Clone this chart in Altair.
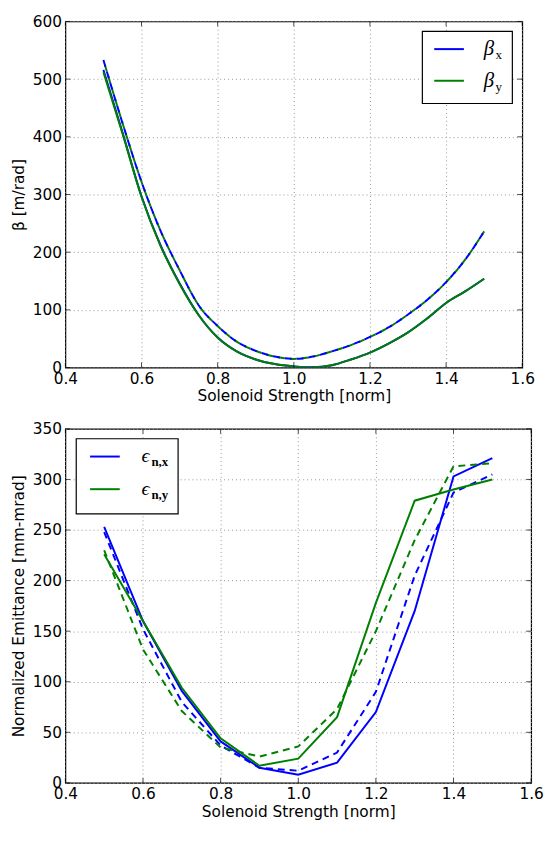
import altair as alt
import pandas as pd

# ---------------- data ----------------
s_beta = [0.50, 0.55, 0.60, 0.65, 0.70, 0.75, 0.80, 0.85, 0.90, 0.95, 1.00,
          1.05, 1.10, 1.15, 1.20, 1.25, 1.30, 1.35, 1.40, 1.45, 1.50]
beta_x_solid = [516, 408, 297, 212, 146, 91, 52, 28, 14, 6, 2,
                0.5, 4, 14, 26, 42, 61, 85, 112, 132, 154]
beta_y_solid = [512, 406, 296, 211, 145, 91, 52, 28, 14, 6, 2,
                0.5, 4, 14, 26, 42, 61, 85, 112, 132, 154]
beta_x_dashed = [533, 424, 322, 237, 169, 108, 72, 45, 29, 19, 15,
                 19, 28, 39, 53, 70, 92, 117, 148, 187, 236]
beta_y_dashed = [533, 424, 322, 237, 169, 108, 72, 45, 29, 19, 15,
                 19, 28, 39, 53, 70, 92, 117, 148, 187, 236]

s_emit = [0.5, 0.6, 0.7, 0.8, 0.9, 1.0, 1.1, 1.2, 1.3, 1.4, 1.5]
emit_x_solid = [253, 160, 91, 41, 15, 8, 20, 70, 170, 303, 321]
emit_x_dashed = [248, 152, 80, 37, 15, 12, 30, 90, 205, 287, 305]
emit_y_solid = [226, 160, 94, 44, 17, 24, 65, 178, 279, 290, 300]
emit_y_dashed = [230, 132, 71, 35, 26, 36, 73, 150, 240, 313, 316]

x_ticks = [0.4, 0.6, 0.8, 1.0, 1.2, 1.4, 1.6]
beta_ticks = [0, 100, 200, 300, 400, 500, 600]
emit_ticks = [0, 50, 100, 150, 200, 250, 300, 350]

x_title = "Solenoid Strength [norm]"
beta_title = "β [m/rad]"
emit_title = "Normalized Emittance [mm-mrad]"

BLUE = "#0000ff"
GREEN = "#008000"
FONT = "DejaVu Sans"
SERIF = "Liberation Serif"

one = pd.DataFrame({"k": [0]})


def panel(w, h, ydom, yticks, ytitle, series, legend):
    xs = alt.Scale(domain=[0.4, 1.6], nice=False, zero=False, padding=0)
    ys = alt.Scale(domain=ydom, nice=False, zero=False, padding=0)
    xenc = alt.X("s:Q", scale=xs, title=x_title,
                 axis=alt.Axis(values=x_ticks, format=".1f", labelFlush=False,
                               labelOverlap=False, ticks=False, domain=False,
                               labelPadding=4, titlePadding=2))
    yenc = alt.Y("v:Q", scale=ys, title=ytitle,
                 axis=alt.Axis(values=yticks, format="d", labelFlush=False,
                               labelOverlap=False, ticks=False, domain=False,
                               labelPadding=4, titlePadding=6))
    layers = []
    for xv, yv, color, dash, off, interp in series:
        df = pd.DataFrame({"s": xv, "v": yv})
        mk = dict(color=color, strokeWidth=2, interpolate=interp, clip=True)
        if dash:
            mk["strokeDash"] = dash
            mk["strokeDashOffset"] = off
        layers.append(alt.Chart(df).mark_line(**mk).encode(x=xenc, y=yenc))

    # inward ticks on all four sides
    dx = pd.DataFrame({"s": x_ticks})
    dy = pd.DataFrame({"v": yticks})
    tk = dict(color="black", size=5, thickness=1)
    layers.append(alt.Chart(dx).mark_tick(**tk).encode(x=xenc, y=alt.value(h - 2.5)))
    layers.append(alt.Chart(dx).mark_tick(**tk).encode(x=xenc, y=alt.value(2.5)))
    layers.append(alt.Chart(dy).mark_tick(**tk).encode(y=yenc, x=alt.value(2.5)))
    layers.append(alt.Chart(dy).mark_tick(**tk).encode(y=yenc, x=alt.value(w - 2.5)))

    # legend
    bx0, bx1, by0, by1, lx0, lx1, ly, tx, main, sub, msize, ssize, sdx, sweight = legend
    layers.append(alt.Chart(one).mark_rect(fill="white", stroke="black", strokeWidth=1.2).encode(
        x=alt.value(bx0), x2=alt.value(bx1), y=alt.value(by0), y2=alt.value(by1)))
    for yy, color, subtxt in zip(ly, [BLUE, GREEN], sub):
        layers.append(alt.Chart(one).mark_rule(color=color, strokeWidth=2).encode(
            x=alt.value(lx0), x2=alt.value(lx1), y=alt.value(yy)))
        layers.append(alt.Chart(one).mark_text(
            font=SERIF, fontStyle="italic", fontSize=msize, align="left",
            baseline="alphabetic", color="black").encode(
            x=alt.value(tx), y=alt.value(yy + 6), text=alt.value(main)))
        layers.append(alt.Chart(one).mark_text(
            font=SERIF, fontSize=ssize, fontWeight=sweight, align="left",
            baseline="alphabetic", color="black").encode(
            x=alt.value(tx + sdx), y=alt.value(yy + 10), text=alt.value(subtxt)))

    return alt.layer(*layers).properties(width=w, height=h)


top = panel(
    462, 350, [0, 600], beta_ticks, beta_title,
    [
        (s_beta, beta_x_solid, BLUE, None, 0, "monotone"),
        (s_beta, beta_y_solid, GREEN, None, 0, "monotone"),
        (s_beta, beta_y_dashed, GREEN, [7, 5], 7, "monotone"),
        (s_beta, beta_x_dashed, BLUE, [7, 5], 0, "monotone"),
    ],
    (361, 452, 10, 83, 373, 403, [28, 60], 423, "β", ["x", "y"], 21, 13, 12, "normal"),
)

bottom = panel(
    471, 358, [0, 350], emit_ticks, emit_title,
    [
        (s_emit, emit_x_solid, BLUE, None, 0, "linear"),
        (s_emit, emit_x_dashed, BLUE, [7, 5], 0, "linear"),
        (s_emit, emit_y_solid, GREEN, None, 0, "linear"),
        (s_emit, emit_y_dashed, GREEN, [7, 5], 0, "linear"),
    ],
    (11, 114, 10, 86, 25, 55, [28, 61], 77, "ϵ", ["n,x", "n,y"], 20, 13, 10, "bold"),
)

chart = alt.vconcat(top, bottom, spacing=16).properties(
    padding={"left": 2, "top": 1, "right": 0, "bottom": 0},
    background="white",
).configure_view(stroke="#000000", strokeWidth=1.2, strokeOpacity=1).configure_axis(
    labelFont=FONT, labelFontSize=15.5, labelColor="black",
    titleFont=FONT, titleFontSize=15.5, titleFontWeight="normal", titleColor="black",
    grid=True, gridColor="#999999", gridDash=[1, 3], gridWidth=1,
)

chart.save("out.html", embed_options={"renderer": "svg", "actions": False})
